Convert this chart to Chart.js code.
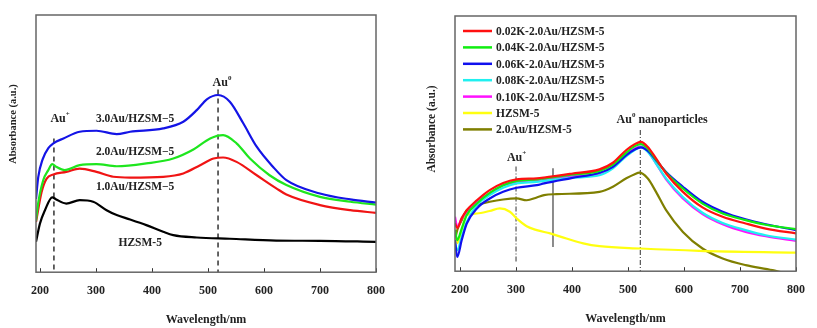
<!DOCTYPE html>
<html>
<head>
<meta charset="utf-8">
<script src="https://cdn.jsdelivr.net/npm/chart.js@4.4.0/dist/chart.umd.min.js"></script>
<style>
  body { margin: 0; background: #fff; }
  canvas { position: absolute; top: 0; }
  #uvLeft { left: 0; }
  #uvRight { left: 410px; }
</style>
</head>
<body>
<canvas id="uvLeft" width="400" height="328"></canvas>
<canvas id="uvRight" width="407" height="328"></canvas>
<script>
const SERIF = "'Liberation Serif', 'Times New Roman', serif";
const xTicks = [200, 300, 400, 500, 600, 700, 800];

// ---- left panel: Au loading ----
const wl30Au = [193, 197, 205, 215, 224, 242, 271, 301, 337, 361, 420, 456, 480, 498, 518, 539, 563, 587, 616, 640, 700, 754, 800];
const abs30Au = [0.285, 0.37, 0.44, 0.482, 0.501, 0.520, 0.546, 0.550, 0.537, 0.546, 0.559, 0.585, 0.630, 0.672, 0.689, 0.663, 0.579, 0.488, 0.410, 0.358, 0.306, 0.283, 0.271];

const wl20Au = [193, 197, 206, 215, 222, 229, 244, 271, 301, 337, 390, 438, 474, 504, 527, 551, 575, 610, 640, 700, 754, 800];
const abs20Au = [0.2, 0.27, 0.358, 0.397, 0.420, 0.410, 0.397, 0.416, 0.420, 0.412, 0.423, 0.442, 0.477, 0.520, 0.533, 0.501, 0.442, 0.377, 0.339, 0.293, 0.274, 0.263];

const wl10Au = [193, 203, 212, 224, 247, 271, 301, 331, 361, 420, 456, 486, 510, 527, 551, 587, 622, 640, 700, 754, 800];
const abs10Au = [0.195, 0.312, 0.364, 0.380, 0.390, 0.403, 0.390, 0.371, 0.368, 0.371, 0.384, 0.416, 0.442, 0.446, 0.429, 0.377, 0.326, 0.302, 0.261, 0.241, 0.231];

const wlSupport = [193, 200, 209, 222, 229, 247, 271, 295, 319, 337, 361, 390, 420, 438, 480, 539, 622, 700, 800];
const absSupport = [0.118, 0.189, 0.241, 0.291, 0.283, 0.267, 0.280, 0.274, 0.241, 0.222, 0.205, 0.183, 0.157, 0.144, 0.135, 0.130, 0.123, 0.122, 0.118];

// ---- right panel: K-promoted samples ----
const wlK = [191, 195, 203, 212, 230, 253, 277, 301, 337, 350, 399, 449, 473, 497, 512, 523, 535, 550, 568, 598, 633, 669, 710, 746, 800];
const absK002 = [0.188, 0.169, 0.208, 0.239, 0.278, 0.318, 0.346, 0.360, 0.364, 0.367, 0.382, 0.399, 0.425, 0.475, 0.498, 0.507, 0.488, 0.442, 0.383, 0.311, 0.250, 0.213, 0.187, 0.167, 0.148];
const absK004 = [0.161, 0.122, 0.167, 0.220, 0.265, 0.307, 0.337, 0.354, 0.360, 0.364, 0.378, 0.393, 0.418, 0.465, 0.490, 0.498, 0.481, 0.438, 0.386, 0.324, 0.265, 0.226, 0.200, 0.182, 0.165];
const absK006 = [0.122, 0.056, 0.122, 0.187, 0.246, 0.285, 0.311, 0.327, 0.337, 0.344, 0.365, 0.386, 0.409, 0.455, 0.477, 0.485, 0.472, 0.435, 0.389, 0.331, 0.272, 0.233, 0.203, 0.184, 0.161];
const absK008 = [0.109, 0.082, 0.135, 0.193, 0.259, 0.298, 0.327, 0.344, 0.350, 0.354, 0.366, 0.376, 0.403, 0.451, 0.475, 0.485, 0.468, 0.422, 0.364, 0.291, 0.229, 0.189, 0.161, 0.141, 0.124];
const absK010 = [0.213, 0.174, 0.207, 0.233, 0.272, 0.305, 0.337, 0.350, 0.357, 0.361, 0.372, 0.383, 0.409, 0.458, 0.481, 0.488, 0.472, 0.422, 0.360, 0.285, 0.224, 0.184, 0.154, 0.137, 0.119];

const wlZeolite = [191, 195, 203, 212, 230, 253, 271, 289, 301, 319, 337, 361, 390, 420, 449, 522, 627, 800];
const absZeolite = [0.135, 0.11, 0.161, 0.220, 0.226, 0.236, 0.246, 0.233, 0.207, 0.176, 0.161, 0.148, 0.128, 0.109, 0.098, 0.089, 0.080, 0.073];

const wlAuOnly = [191, 195, 203, 212, 230, 253, 277, 301, 319, 337, 350, 372, 449, 473, 497, 512, 520, 535, 550, 568, 598, 633, 669, 710, 758, 800];
const absAuOnly = [0.122, 0.161, 0.2, 0.239, 0.259, 0.272, 0.281, 0.285, 0.278, 0.289, 0.298, 0.302, 0.311, 0.331, 0.364, 0.380, 0.386, 0.364, 0.311, 0.239, 0.154, 0.089, 0.050, 0.024, 0.004, -0.02];

const pts = (xs, ys) => xs.map((x, i) => ({ x, y: ys[i] }));

function line(label, xs, ys, color) {
  return {
    label, data: pts(xs, ys), borderColor: color, backgroundColor: color,
    borderWidth: 2.2, pointRadius: 0, cubicInterpolationMode: 'monotone', fill: false
  };
}

// text with an optional superscript part, centred on (cx, cy)
function supText(ctx, t, cx, cy) {
  const size = t.size;
  const main = `bold ${size}px ${SERIF}`;
  const small = `bold ${Math.round(size * 0.6)}px ${SERIF}`;
  ctx.font = main; const w1 = ctx.measureText(t.text).width;
  ctx.font = small; const w2 = t.sup ? ctx.measureText(t.sup).width : 0;
  ctx.font = main; const w3 = t.tail ? ctx.measureText(t.tail).width : 0;
  let x = cx - (w1 + w2 + w3) / 2;
  ctx.textAlign = 'left'; ctx.textBaseline = 'middle';
  ctx.font = main; ctx.fillText(t.text, x, cy); x += w1;
  if (t.sup) { ctx.font = small; ctx.fillText(t.sup, x, cy - size * 0.38); x += w2; }
  if (t.tail) { ctx.font = main; ctx.fillText(t.tail, x, cy); }
}

const decor = {
  id: 'decor',
  beforeDatasetsDraw(chart, args, opts) {
    const { ctx, scales: { x, y } } = chart;
    ctx.save();
    (opts.markers || []).forEach(m => {
      ctx.setLineDash(m.dash); ctx.strokeStyle = m.color; ctx.lineWidth = m.width;
      const px = x.getPixelForValue(m.x);
      ctx.beginPath();
      ctx.moveTo(px, y.getPixelForValue(m.top));
      ctx.lineTo(px, y.getPixelForValue(m.bottom));
      ctx.stroke();
    });
    ctx.restore();
  },
  afterDatasetsDraw(chart, args, opts) {
    const { ctx, chartArea: a, scales: { x, y } } = chart;
    ctx.save();
    // inward tick marks on the wavelength axis
    ctx.strokeStyle = '#333'; ctx.lineWidth = 1;
    x.ticks.forEach(t => {
      const px = Math.round(x.getPixelForValue(t.value)) + 0.5;
      ctx.beginPath(); ctx.moveTo(px, a.bottom); ctx.lineTo(px, a.bottom - 4); ctx.stroke();
    });
    // frame
    ctx.strokeStyle = '#666'; ctx.lineWidth = 1.5;
    ctx.strokeRect(a.left, a.top, a.right - a.left, a.bottom - a.top);
    // annotations
    ctx.fillStyle = '#222';
    (opts.notes || []).forEach(n => supText(ctx, n, x.getPixelForValue(n.x), y.getPixelForValue(n.y)));
    // y title
    const yt = opts.yTitle;
    ctx.translate(yt.cx, yt.cy); ctx.rotate(-Math.PI / 2);
    ctx.font = `bold ${yt.size}px ${SERIF}`; ctx.textAlign = 'center'; ctx.textBaseline = 'middle';
    ctx.fillText('Absorbance (a.u.)', 0, 0);
    ctx.restore();
    // legend inside the plot
    if (opts.legend) {
      ctx.save();
      const lg = opts.legend;
      ctx.font = `bold ${lg.size}px ${SERIF}`; ctx.textBaseline = 'middle'; ctx.textAlign = 'left';
      chart.data.datasets.filter(d => d.label).forEach((d, i) => {
        const ly = a.top + lg.top + i * lg.row;
        ctx.strokeStyle = d.borderColor; ctx.lineWidth = 2.5;
        ctx.beginPath(); ctx.moveTo(a.left + lg.left, ly); ctx.lineTo(a.left + lg.left + 29, ly); ctx.stroke();
        ctx.fillStyle = '#222';
        ctx.fillText(d.label, a.left + lg.left + 33, ly + 1);
      });
      ctx.restore();
    }
  }
};

function options(xMin, pad, decorOpts) {
  return {
    responsive: false, animation: false,
    layout: { padding: pad },
    plugins: { legend: { display: false }, tooltip: { enabled: false }, decor: decorOpts },
    scales: {
      x: {
        type: 'linear', min: xMin, max: 800,
        afterBuildTicks: s => { s.ticks = xTicks.map(v => ({ value: v })); },
        grid: { drawOnChartArea: false, drawTicks: false },
        border: { display: false },
        ticks: { color: '#222', padding: 12, maxRotation: 0, autoSkip: false, font: { family: SERIF, size: 12, weight: 'bold' } },
        title: { display: true, text: 'Wavelength/nm', color: '#222', padding: { top: 2, bottom: 0 }, font: { family: SERIF, size: 12, weight: 'bold' } }
      },
      y: { type: 'linear', min: 0, max: 1, display: false }
    }
  };
}

new Chart(document.getElementById('uvLeft'), {
  type: 'line',
  data: {
    datasets: [
      line('3.0Au/HZSM-5', wl30Au, abs30Au, '#1414e6'),
      line('2.0Au/HZSM-5', wl20Au, abs20Au, '#1ee61e'),
      line('1.0Au/HZSM-5', wl10Au, abs10Au, '#f01414'),
      line('HZSM-5', wlSupport, absSupport, '#000000')
    ]
  },
  options: options(193, { left: 36, top: 15, right: 24, bottom: 1 }, {
    markers: [
      { x: 225, top: 0.52, bottom: 0, dash: [5, 4], color: '#333', width: 1.5 },
      { x: 518, top: 0.71, bottom: 0, dash: [5, 4], color: '#333', width: 1.5 }
    ],
    notes: [
      { x: 236, y: 0.595, text: 'Au', sup: '+', size: 12 },
      { x: 525, y: 0.735, text: 'Au', sup: '0', size: 12 },
      { x: 370, y: 0.595, text: '3.0Au/HZSM\u22125', size: 11.5 },
      { x: 370, y: 0.467, text: '2.0Au/HZSM\u22125', size: 11.5 },
      { x: 370, y: 0.331, text: '1.0Au/HZSM\u22125', size: 11.5 },
      { x: 379, y: 0.113, text: 'HZSM-5', size: 11.5 }
    ],
    yTitle: { cx: 13, cy: 124, size: 10.5 }
  }),
  plugins: [decor]
});

new Chart(document.getElementById('uvRight'), {
  type: 'line',
  data: {
    datasets: [
      line('0.02K-2.0Au/HZSM-5', wlK, absK002, '#ff1010'),
      line('0.04K-2.0Au/HZSM-5', wlK, absK004, '#10ee10'),
      line('0.06K-2.0Au/HZSM-5', wlK, absK006, '#1010ee'),
      line('0.08K-2.0Au/HZSM-5', wlK, absK008, '#20f0f0'),
      line('0.10K-2.0Au/HZSM-5', wlK, absK010, '#ff10ff'),
      line('HZSM-5', wlZeolite, absZeolite, '#ffff10'),
      line('2.0Au/HZSM-5', wlAuOnly, absAuOnly, '#7f7f00')
    ]
  },
  options: options(191, { left: 45, top: 16, right: 20, bottom: 2 }, {
    markers: [
      { x: 300, top: 0.41, bottom: 0.03, dash: [5, 2, 1, 2], color: '#555', width: 1.2 },
      { x: 522, top: 0.553, bottom: 0, dash: [5, 2, 1, 2], color: '#555', width: 1.2 },
      { x: 366, top: 0.403, bottom: 0.095, dash: [], color: '#666', width: 1.5 }
    ],
    notes: [
      { x: 301, y: 0.443, text: 'Au', sup: '+', size: 12 },
      { x: 561, y: 0.592, text: 'Au', sup: '0', tail: ' nanoparticles', size: 12 }
    ],
    legend: { left: 8, top: 15, row: 16.4, size: 11.5 },
    yTitle: { cx: 22, cy: 129, size: 11.5 }
  }),
  plugins: [decor]
});
</script>
</body>
</html>
